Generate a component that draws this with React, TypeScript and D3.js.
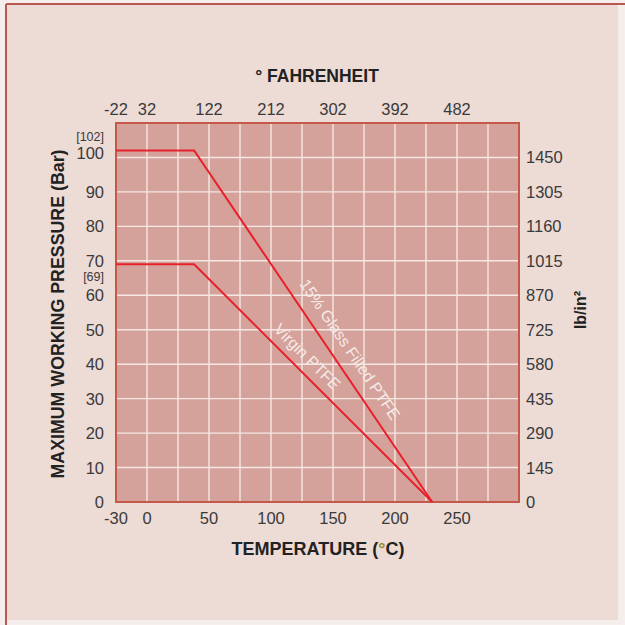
import React from 'react';
import { scaleLinear, line, range } from 'd3';

// bottom axis (°C) and matching top axis (°F)
const celsiusTicks = [-30, 0, 50, 100, 150, 200, 250];
const fahrenheitLabels = ['-22', '32', '122', '212', '302', '392', '482'];

// left axis (bar) and matching right axis (lb/in²)
const barTicks = [0, 10, 20, 30, 40, 50, 60, 70, 80, 90, 100];
const psiLabels = ['0', '145', '290', '435', '580', '725', '870', '1015', '1160', '1305', '1450'];

// pressure / temperature curves
const glassTemps = [-25, 38, 230];
const glassBar = [102, 102, 0];
const virginTemps = [-25, 38, 230];
const virginBar = [69, 69, 0];

const FONT = '"Liberation Sans", Arial, sans-serif';

export default function App() {
  const x = scaleLinear().domain([-25, 300]).range([116, 519]).clamp(true);
  const y = scaleLinear().domain([0, 110]).range([502, 123]);

  const path = line<[number, number]>()
    .x(d => x(d[0]))
    .y(d => y(d[1]));

  const glass = glassTemps.map((t, i) => [t, glassBar[i]] as [number, number]);
  const virgin = virginTemps.map((t, i) => [t, virginBar[i]] as [number, number]);

  // place a label along the sloping segment of a curve
  const slopeLabel = (pts: [number, number][], at: number, off: number, text: string) => {
    const [a, b] = [pts[1], pts[2]];
    const x0 = x(a[0]), y0 = y(a[1]), x1 = x(b[0]), y1 = y(b[1]);
    const ang = (Math.atan2(y1 - y0, x1 - x0) * 180) / Math.PI;
    const k = (at - a[0]) / (b[0] - a[0]);
    const px = x(at);
    const py = y0 + (y1 - y0) * k;
    return (
      <text
        transform={`translate(${px},${py}) rotate(${ang})`}
        dy={-off}
        textAnchor="middle"
        fill="#f6ebe8"
        fontSize={16}
        fontFamily={FONT}
      >
        {text}
      </text>
    );
  };

  const gridT = range(0, 300, 25);
  const gridB = range(10, 110, 10);

  return (
    <svg width={625} height={625} style={{ position: 'absolute', left: 0, top: 0 }}>
      <rect x={0} y={0} width={625} height={625} fill="#f6eeec" />
      <rect x={7} y={5} width={611} height={615} fill="#eddbd6" />
      <line x1={6} y1={4} x2={625} y2={4} stroke="#b85a52" strokeWidth={2} />
      <line x1={6} y1={4} x2={6} y2={625} stroke="#b85a52" strokeWidth={2} />

      {/* plot area */}
      <rect x={x(-25)} y={y(110)} width={x(300) - x(-25)} height={y(0) - y(110)} fill="#d5a29b" />
      {gridT.map(t => (
        <line key={'v' + t} x1={x(t)} x2={x(t)} y1={y(110)} y2={y(0)} stroke="#f5e7e3" strokeWidth={1.4} />
      ))}
      {gridB.map(b => (
        <line key={'h' + b} x1={x(-25)} x2={x(300)} y1={y(b)} y2={y(b)} stroke="#f5e7e3" strokeWidth={1.4} />
      ))}
      <rect
        x={x(-25)}
        y={y(110)}
        width={x(300) - x(-25)}
        height={y(0) - y(110)}
        fill="none"
        stroke="#c4584b"
        strokeWidth={2}
      />

      <path d={path(glass) || ''} fill="none" stroke="#e8202c" strokeWidth={2} />
      <path d={path(virgin) || ''} fill="none" stroke="#e8202c" strokeWidth={2} />
      {slopeLabel(glass, 152, 12, '15% Glass Filled PTFE')}
      {slopeLabel(virgin, 121, 9, 'Virgin PTFE')}

      <g fontFamily={FONT} fontSize={16.5} fill="#3a3a3a">
        {/* bottom axis */}
        {celsiusTicks.map(t => (
          <text key={'c' + t} x={x(t)} y={524} textAnchor="middle">
            {t}
          </text>
        ))}
        {/* top axis */}
        {celsiusTicks.map((t, i) => (
          <text key={'f' + t} x={x(t)} y={115} textAnchor="middle">
            {fahrenheitLabels[i]}
          </text>
        ))}
        {/* left axis */}
        {barTicks.map(b => (
          <text key={'b' + b} x={104} y={y(b) + (b === 100 ? 2 : 6)} textAnchor="end">
            {b}
          </text>
        ))}
        {/* right axis */}
        {barTicks.map((b, i) => (
          <text key={'p' + b} x={526} y={y(b) + 6}>
            {psiLabels[i]}
          </text>
        ))}
        <text x={104} y={y(glassBar[0]) - 10} textAnchor="end" fontSize={12.5}>
          [{glassBar[0]}]
        </text>
        <text x={104} y={y(virginBar[0]) + 17} textAnchor="end" fontSize={12.5}>
          [{virginBar[0]}]
        </text>
      </g>

      <g fontFamily={FONT} fontWeight="bold" fontSize={18} fill="#222">
        <text x={317} y={82} textAnchor="middle" fontSize={17.5}>
          ° FAHRENHEIT
        </text>
        <text x={318} y={555} textAnchor="middle">
          TEMPERATURE (<tspan fill="#9a8a1e">°</tspan>C)
        </text>
        <text transform="translate(64,314) rotate(-90)" textAnchor="middle" fontSize={17.8}>
          MAXIMUM WORKING PRESSURE (Bar)
        </text>
        <text transform="translate(586,310) rotate(-90)" textAnchor="middle" fontSize={16}>
          lb/in²
        </text>
      </g>
    </svg>
  );
}
